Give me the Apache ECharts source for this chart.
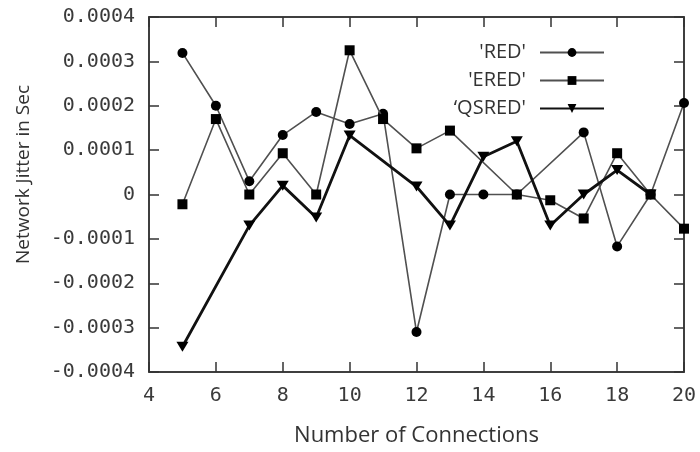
<!DOCTYPE html>
<html>
<head>
<meta charset="utf-8">
<script src="https://cdn.jsdelivr.net/npm/echarts@6/dist/echarts.min.js"></script>
<style>
  html, body { margin: 0; padding: 0; background: #fff; }
  #chart { width: 700px; height: 452px; }
</style>
</head>
<body>
<div id="chart"></div>
<script>
// ---- data ----
const seriesNames = ["'RED'", "'ERED'", "\u2018QSRED'"];

const redX = [5, 6, 7, 8, 9, 10, 11, 12, 13, 14, 15, 17, 18, 19, 20];
const redY = [0.000319, 0.000200, 0.000030, 0.000134, 0.000186, 0.000159, 0.000182, -0.000310, 0, 0, 0, 0.000140, -0.000117, 0, 0.000206];

const eredX = [5, 6, 7, 8, 9, 10, 11, 12, 13, 15, 16, 17, 18, 19, 20];
const eredY = [-0.000022, 0.000170, 0, 0.000093, 0, 0.000325, 0.000170, 0.000104, 0.000144, 0, -0.000013, -0.000054, 0.000093, 0, -0.000077];

const qsredX = [5, 7, 8, 9, 10, 12, 13, 14, 15, 16, 17, 18, 19];
const qsredY = [-0.000343, -0.000070, 0.000020, -0.000052, 0.000133, 0.000018, -0.000070, 0.000085, 0.000120, -0.000070, 0, 0.000055, 0];

const xMin = 4, xMax = 20, xStep = 2;
const yMin = -0.0004, yMax = 0.0004, yStep = 0.0001;
const xTitle = 'Number of Connections';
const yTitle = 'Network Jitter in Sec';

function pairs(xs, ys) { return xs.map((x, i) => [x, ys[i]]); }

const chart = echarts.init(document.getElementById('chart'), null, { renderer: 'canvas' });

const axisLineStyle = { color: '#333', width: 1.5 };
const tickStyle = { color: '#333', width: 1.5 };
const tickOpt = { show: true, inside: false, length: -10, lineStyle: tickStyle };

const option = {
  animation: false,
  backgroundColor: '#fff',
  grid: { left: 149, right: 16, top: 17, bottom: 80, containLabel: false, outerBoundsMode: 'none',
          show: true, borderColor: '#333', borderWidth: 1.5, backgroundColor: 'transparent' },
  legend: {
    orient: 'vertical',
    right: 95,
    top: 42,
    padding: 0,
    align: 'right',
    itemWidth: 64,
    itemHeight: 11,
    itemGap: 7,
    selectedMode: false,
    textStyle: { fontFamily: 'Open Sans', fontSize: 20, color: '#333', lineHeight: 21, padding: [0, 9, 0, 0] },
    data: seriesNames
  },
  xAxis: [
    {
      type: 'value', gridIndex: 0, min: xMin, max: xMax, interval: xStep, position: 'bottom',
      name: xTitle, nameLocation: 'middle', nameGap: 53,
      nameTextStyle: { fontFamily: 'Open Sans', fontSize: 22, color: '#333' },
      axisLine: { show: true, onZero: false, lineStyle: axisLineStyle },
      axisTick: tickOpt,
      axisLabel: { show: true, margin: 14, fontFamily: 'DejaVu Sans Mono', fontSize: 20, color: '#3a3a3a' },
      splitLine: { show: false }
    },
    {
      type: 'value', gridIndex: 0, min: xMin, max: xMax, interval: xStep, position: 'top',
      axisLine: { show: true, onZero: false, lineStyle: axisLineStyle },
      axisTick: tickOpt,
      axisLabel: { show: false },
      splitLine: { show: false }
    }
  ],
  yAxis: [
    {
      type: 'value', gridIndex: 0, min: yMin, max: yMax, interval: yStep, position: 'left',
      name: yTitle, nameLocation: 'middle', nameGap: 116,
      nameTextStyle: { fontFamily: 'Open Sans', fontSize: 19, color: '#333', padding: [0, 0, 0, 40] },
      axisLine: { show: true, onZero: false, lineStyle: axisLineStyle },
      axisTick: tickOpt,
      axisLabel: {
        show: true, margin: 14, fontFamily: 'DejaVu Sans Mono', fontSize: 20, color: '#3a3a3a',
        formatter: function (v) { return Math.abs(v) < 1e-12 ? '0' : v.toFixed(4); }
      },
      splitLine: { show: false }
    },
    {
      type: 'value', gridIndex: 0, min: yMin, max: yMax, interval: yStep, position: 'right',
      axisLine: { show: true, onZero: false, lineStyle: axisLineStyle },
      axisTick: tickOpt,
      axisLabel: { show: false },
      splitLine: { show: false }
    }
  ],
  series: [
    {
      name: seriesNames[0], type: 'line', xAxisIndex: 0, yAxisIndex: 0,
      data: pairs(redX, redY),
      symbol: 'circle', symbolSize: 10,
      lineStyle: { color: '#505050', width: 1.6 },
      itemStyle: { color: '#000' },
      z: 3
    },
    {
      name: seriesNames[1], type: 'line', xAxisIndex: 0, yAxisIndex: 0,
      data: pairs(eredX, eredY),
      symbol: 'rect', symbolSize: 10,
      lineStyle: { color: '#505050', width: 1.6 },
      itemStyle: { color: '#000' },
      z: 4
    },
    {
      name: seriesNames[2], type: 'line', xAxisIndex: 0, yAxisIndex: 0,
      data: pairs(qsredX, qsredY),
      symbol: 'triangle', symbolSize: [12, 10], symbolRotate: 180,
      lineStyle: { color: '#111', width: 2.8 },
      itemStyle: { color: '#000' },
      z: 5
    }
  ]
};

chart.setOption(option);
</script>
</body>
</html>
